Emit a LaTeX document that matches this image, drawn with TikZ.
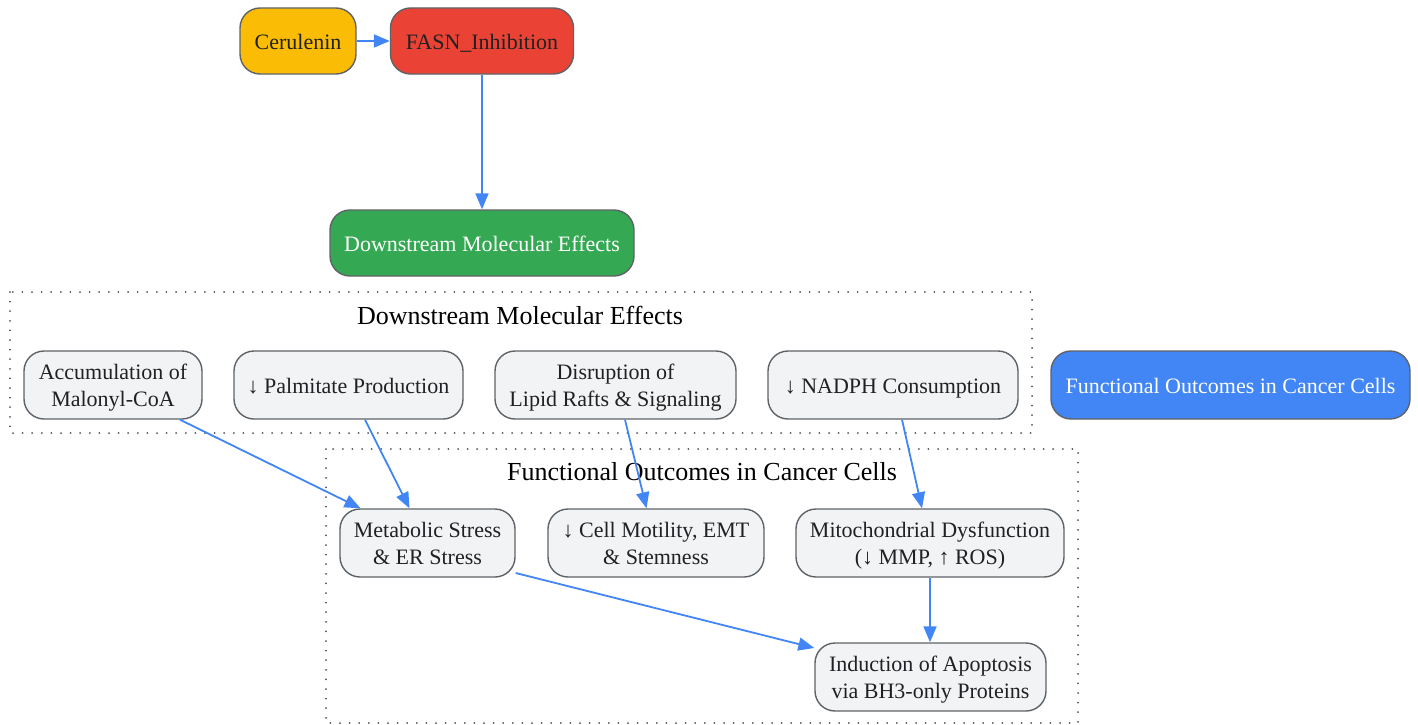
\documentclass[tikz,border=0pt]{standalone}
\usepackage{fontspec}
\setmainfont{Liberation Serif}
\usetikzlibrary{arrows.meta,calc}
\definecolor{bordergray}{HTML}{5F6368}
\definecolor{textdark}{HTML}{202124}
\definecolor{boxgray}{HTML}{F1F3F4}
\definecolor{arrowblue}{HTML}{4285F4}
\definecolor{gyellow}{HTML}{FBBC05}
\definecolor{gred}{HTML}{EA4335}
\definecolor{ggreen}{HTML}{34A853}
\definecolor{gblue}{HTML}{4285F4}
\newcommand\ms{\rule[-5pt]{0pt}{26pt}}
\tikzset{
  box/.style={draw=bordergray, line width=1.4pt, rounded corners=20pt, minimum height=66pt,
    align=center, font=\fontsize{22}{27}\selectfont, text=textdark, inner sep=0pt},
  gbox/.style={box, fill=boxgray, minimum height=68pt},
  arr/.style={draw=arrowblue, line width=1.8pt, -{Triangle[length=16pt,width=13pt]}},
  cluster/.style={draw=bordergray!85!black, line width=2pt, line cap=round, dash pattern=on 0pt off 9.6pt},
  clabel/.style={font=\fontsize{26}{30}\selectfont, text=black, inner sep=0pt}
}
\begin{document}
\begin{tikzpicture}[x=1pt,y=-1pt]
\useasboundingbox (0,0) rectangle (1418,725);
% clusters
\draw[cluster] (10,292) rectangle (1032,433);
\node[clabel] (l1) at (520,315) {Downstream Molecular Effects};
\draw[cluster] (326,449) rectangle (1078,723);
\node[clabel] (l2) at (702,472) {Functional Outcomes in Cancer Cells};
% top nodes
\node[box, fill=gyellow, minimum width=116pt] (cer) at (298,41) {Cerulenin\ms};
\node[box, fill=gred, minimum width=183pt] (fasn) at (482,41) {FASN\_Inhibition\ms};
\node[box, fill=ggreen, text=white, minimum width=304pt] (down) at (482,243) {Downstream Molecular Effects\ms};
% cluster 1
\node[gbox, minimum width=178pt] (acc) at (113,385) {Accumulation of\ms\\Malonyl-CoA\ms};
\node[gbox, minimum width=229pt] (pal) at (348.5,385) {↓ Palmitate Production\ms};
\node[gbox, minimum width=241pt] (dis) at (615.5,385) {Disruption of\ms\\Lipid Rafts \& Signaling\ms};
\node[gbox, minimum width=250pt] (nad) at (893,385) {↓ NADPH Consumption\ms};
\node[box, fill=gblue, text=white, minimum height=68pt, minimum width=359pt] (fun) at (1230.5,385) {Functional Outcomes in Cancer Cells\ms};
% cluster 2
\node[gbox, minimum width=175pt] (met) at (427.5,543) {Metabolic Stress\ms\\\& ER Stress\ms};
\node[gbox, minimum width=216pt] (mot) at (656,543) {↓ Cell Motility, EMT\ms\\\& Stemness\ms};
\node[gbox, minimum width=268pt] (mit) at (930,543) {Mitochondrial Dysfunction\ms\\(↓ MMP, ↑ ROS)\ms};
\node[gbox, minimum width=231pt] (ind) at (930.5,677) {Induction of Apoptosis\ms\\via BH3-only Proteins\ms};
% edges
\draw[arr] (cer.east) -- (fasn.west);
\draw[arr] (fasn.south) -- (fasn.south |- down.north);
\draw[arr] ($(acc.south)+(67,0)$) -- ($(met.north)+(-67,0)$);
\draw[arr] ($(pal.south)+(16.5,0)$) -- ($(met.north)+(-18,0)$);
\draw[arr] ($(dis.south)+(9.5,0)$) -- ($(mot.north)+(-9.5,0)$);
\draw[arr] ($(nad.south)+(9,0)$) -- ($(mit.north)+(-8,0)$);
\draw[arr] (mit.south) -- (mit.south |- ind.north);
\draw[arr] ($(met.east)+(0,30)$) -- ($(ind.west)+(0,-29)$);
\end{tikzpicture}
\end{document}
